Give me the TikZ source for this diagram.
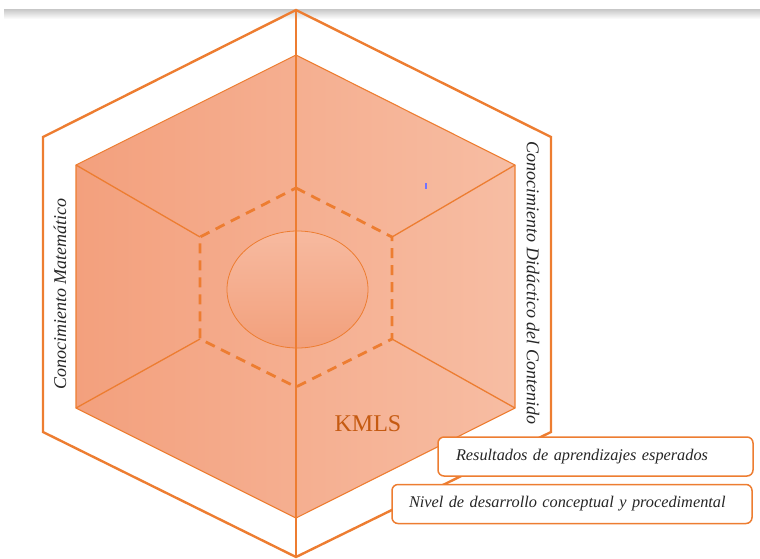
\documentclass[tikz,border=0pt]{standalone}
\usepackage{fontspec}
\setmainfont{Liberation Serif}
\usetikzlibrary{shapes.geometric}
\definecolor{org}{RGB}{237,125,49}
\definecolor{kml}{RGB}{197,90,17}
\definecolor{fillL}{RGB}{243,160,125}
\definecolor{fillR}{RGB}{247,189,163}
\definecolor{ellT}{RGB}{247,186,160}
\definecolor{ellB}{RGB}{242,160,124}
\begin{document}
\begin{tikzpicture}[x=1pt,y=-1pt,
  outerline/.style={draw=org,line width=2.4pt,line join=miter},
  thinline/.style={draw=org,line width=1.3pt},
  dashline/.style={draw=org,line width=2.8pt,dash pattern=on 10pt off 7pt},
  sidetext/.style={font=\itshape\fontsize{18}{21}\selectfont,text=black!85},
  infobox/.style={draw=org,line width=1.5pt,fill=white,rounded corners=6pt,
    font=\itshape\fontsize{16.3}{19}\selectfont,align=left,text=black!85,
    minimum height=39pt,inner ysep=0pt}]
\useasboundingbox (0,0) rectangle (760,558);
\shade[top color=black!22,bottom color=white] (4,9) rectangle (760,19);
% coordinates
\coordinate (O1) at (296,10);  \coordinate (O2) at (551,137);
\coordinate (O3) at (551,432); \coordinate (O4) at (296,557);
\coordinate (O5) at (43,432);  \coordinate (O6) at (43,137);
\coordinate (I1) at (296,55);  \coordinate (I2) at (515,165);
\coordinate (I3) at (515,408); \coordinate (I4) at (296,518);
\coordinate (I5) at (76,408);  \coordinate (I6) at (76,165);
\coordinate (D1) at (296,188); \coordinate (D2) at (392,237);
\coordinate (D3) at (392,339); \coordinate (D4) at (296,387);
\coordinate (D5) at (200,339); \coordinate (D6) at (200,237);
% filled inner hexagon
\shade[left color=fillL,right color=fillR] (I1)--(I2)--(I3)--(I4)--(I5)--(I6)--cycle;
\draw[thinline,line width=1.1pt] (I1)--(I2)--(I3)--(I4)--(I5)--(I6)--cycle;
% ellipse
\node[ellipse,draw=org,line width=0.8pt,top color=ellT,bottom color=ellB,
  minimum width=141pt,minimum height=117pt,inner sep=0pt] (ell) at (297.5,289.5) {};
% spokes
\draw[thinline] (I6)--(D6);
\draw[thinline] (I5)--(D5);
\draw[thinline] (I2)--(D2);
\draw[thinline] (I3)--(D3);
\draw[thinline] (O1)--(O4);
% dashed hexagon
\draw[dashline] (D1)--(D2)--(D3)--(D4)--(D5)--(D6)--cycle;
% outer hexagon
\draw[outerline] (O1)--(O2)--(O3)--(O4)--(O5)--(O6)--cycle;
% tiny blue mark
\draw[blue!55,line width=1.2pt] (426,183)--(426,189);
% texts
\node[sidetext,rotate=90] (cm) at (60,294) {Conocimiento Matemático};
\node[sidetext,rotate=-90] (cdc) at (533,283) {Conocimiento Didáctico del Contenido};
\node[text=kml,font=\fontsize{24}{28}\selectfont] (kmls) at (368,424) {KMLS};
% boxes
\node[infobox,inner xsep=18pt,text width=279pt] (res) at (595.5,456.5) {Resultados de aprendizajes esperados};
\node[infobox,inner xsep=17pt,text width=326pt] (niv) at (572,504) {Nivel de desarrollo conceptual y procedimental};
\end{tikzpicture}
\end{document}
